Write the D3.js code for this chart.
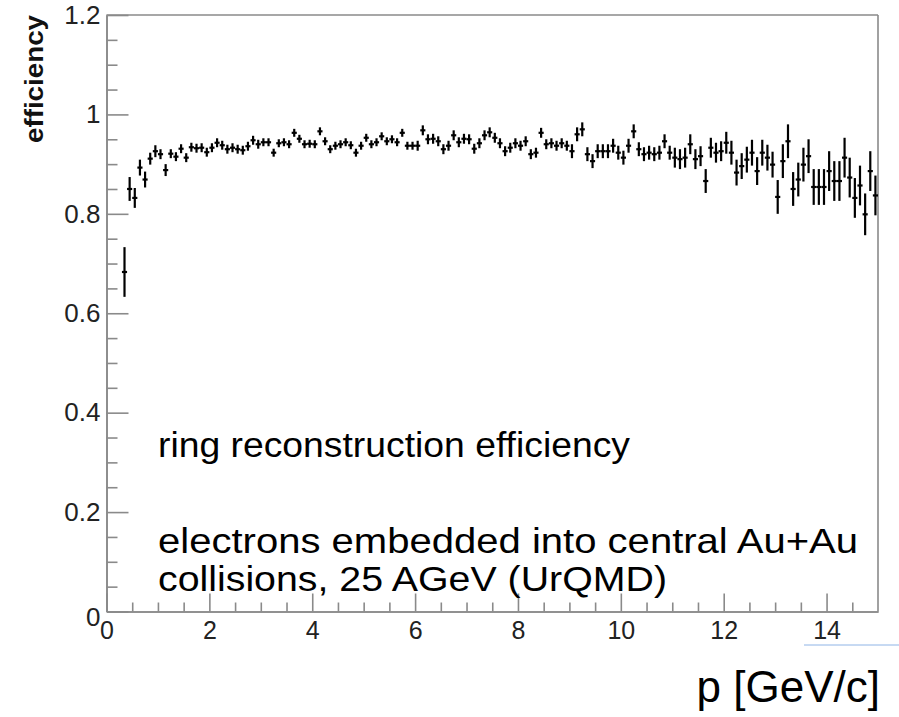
<!DOCTYPE html>
<html>
<head>
<meta charset="utf-8">
<script src="https://cdn.jsdelivr.net/npm/d3@7/dist/d3.min.js"></script>
<style>
  html, body { margin: 0; padding: 0; background: #fff; }
  svg { display: block; font-family: "Liberation Sans", Arial, Helvetica, sans-serif; }
</style>
</head>
<body>
<svg id="chart" width="899" height="717"></svg>
<script>
// ---- data ----
const momentum = [
  0.35,0.45,0.55,0.65,0.75,0.85,0.95,1.05,1.15,1.25,1.35,1.45,1.55,1.65,1.75,1.85,1.95,
  2.05,2.15,2.25,2.35,2.45,2.55,2.65,2.75,2.85,2.95,
  3.05,3.15,3.25,3.35,3.45,3.55,3.65,3.75,3.85,3.95,
  4.05,4.15,4.25,4.35,4.45,4.55,4.65,4.75,4.85,4.95,
  5.05,5.15,5.25,5.35,5.45,5.55,5.65,5.75,5.85,5.95,
  6.05,6.15,6.25,6.35,6.45,6.55,6.65,6.75,6.85,6.95,
  7.05,7.15,7.25,7.35,7.45,7.55,7.65,7.75,7.85,7.95,
  8.05,8.15,8.25,8.35,8.45,8.55,8.65,8.75,8.85,8.95,
  9.05,9.15,9.25,9.35,9.45,9.55,9.65,9.75,9.85,9.95,
  10.05,10.15,10.25,10.35,10.45,10.55,10.65,10.75,10.85,10.95,
  11.05,11.15,11.25,11.35,11.45,11.55,11.65,11.75,11.85,11.95,
  12.05,12.15,12.25,12.35,12.45,12.55,12.65,12.75,12.85,12.95,
  13.05,13.15,13.25,13.35,13.45,13.55,13.65,13.75,13.85,13.95,
  14.05,14.15,14.25,14.35,14.45,14.55,14.65,14.75,14.85,14.95
];
const efficiency = [
  0.683,0.850,0.832,0.893,0.869,0.911,0.926,0.920,0.888,0.921,0.915,0.931,0.913,0.934,0.932,0.933,0.924,
  0.933,0.943,0.938,0.930,0.933,0.930,0.928,0.936,0.948,0.940,
  0.944,0.944,0.923,0.942,0.944,0.940,0.963,0.951,0.940,0.941,
  0.940,0.966,0.946,0.930,0.937,0.940,0.944,0.938,0.923,0.937,
  0.953,0.940,0.944,0.956,0.946,0.950,0.944,0.963,0.937,0.937,
  0.937,0.968,0.950,0.951,0.946,0.930,0.937,0.958,0.944,0.951,
  0.950,0.931,0.942,0.958,0.964,0.953,0.942,0.926,0.933,0.942,
  0.937,0.946,0.920,0.923,0.963,0.940,0.942,0.937,0.942,0.937,
  0.926,0.960,0.970,0.920,0.906,0.926,0.926,0.926,0.937,0.923,
  0.913,0.937,0.966,0.930,0.920,0.923,0.920,0.923,0.946,0.923,
  0.913,0.910,0.913,0.940,0.910,0.916,0.866,0.933,0.923,0.926,
  0.943,0.923,0.883,0.896,0.909,0.923,0.886,0.923,0.913,0.899,
  0.834,0.906,0.946,0.850,0.869,0.899,0.916,0.854,0.854,0.854,
  0.886,0.866,0.866,0.913,0.873,0.832,0.857,0.799,0.886,0.837
];
const effError = [
  0.050,0.024,0.020,0.016,0.016,0.012,0.012,0.010,0.012,0.009,0.009,0.009,0.009,0.009,0.009,0.009,0.009,
  0.009,0.009,0.009,0.009,0.009,0.009,0.009,0.009,0.009,0.009,
  0.008,0.008,0.008,0.008,0.008,0.008,0.008,0.008,0.008,0.008,
  0.008,0.008,0.008,0.008,0.008,0.008,0.008,0.008,0.008,0.008,
  0.008,0.008,0.008,0.008,0.008,0.008,0.008,0.008,0.008,0.008,
  0.010,0.010,0.010,0.010,0.010,0.010,0.010,0.010,0.010,0.010,
  0.010,0.010,0.010,0.010,0.010,0.010,0.010,0.010,0.010,0.010,
  0.010,0.010,0.010,0.010,0.010,0.010,0.010,0.010,0.010,0.010,
  0.014,0.014,0.014,0.014,0.014,0.014,0.014,0.014,0.014,0.014,
  0.014,0.014,0.014,0.014,0.014,0.014,0.014,0.014,0.014,0.014,
  0.020,0.020,0.020,0.020,0.020,0.020,0.024,0.020,0.020,0.020,
  0.022,0.024,0.026,0.026,0.026,0.026,0.028,0.026,0.026,0.026,
  0.034,0.034,0.034,0.034,0.034,0.034,0.034,0.036,0.036,0.036,
  0.040,0.040,0.040,0.040,0.040,0.040,0.040,0.042,0.040,0.040
];
const binHalfWidth = 0.05;
const xMajorTicks = [0, 2, 4, 6, 8, 10, 12, 14];
const xMinorTicks = [0.5,1,1.5,2.5,3,3.5,4.5,5,5.5,6.5,7,7.5,8.5,9,9.5,10.5,11,11.5,12.5,13,13.5,14.5];
const yMajorTicks = [0, 0.2, 0.4, 0.6, 0.8, 1, 1.2];
const yMinorTicks = [0.05,0.1,0.15,0.25,0.3,0.35,0.45,0.5,0.55,0.65,0.7,0.75,0.85,0.9,0.95,1.05,1.1,1.15];
const yTitle = "efficiency";
const xTitle = "p [GeV/c]";
const noteLines = ["ring reconstruction efficiency", "electrons embedded into central Au+Au", "collisions, 25 AGeV (UrQMD)"];

// ---- layout ----
const svg = d3.select("#chart");
const L = 106.5, R = 878, T = 15, B = 611.5;
const axisColor = "#8a8a8a";
const x = d3.scaleLinear().domain([0, 15]).range([L, R]);
const y = d3.scaleLinear().domain([0, 1.2]).range([B, T]);

// frame (top & right)
svg.append("line").attr("x1", L).attr("x2", R).attr("y1", T).attr("y2", T)
  .attr("stroke", axisColor).attr("stroke-width", 1.6);
svg.append("line").attr("x1", R).attr("x2", R).attr("y1", T).attr("y2", B)
  .attr("stroke", axisColor).attr("stroke-width", 1.6);

function styleAxis(g, fs) {
  g.select(".domain").attr("stroke", axisColor).attr("stroke-width", 1.6);
  g.selectAll(".tick line").attr("stroke", axisColor).attr("stroke-width", 1.6);
  g.selectAll(".tick text").attr("fill", "#222").attr("font-size", fs);
}

// x axis
const gxMinor = svg.append("g").attr("transform", `translate(0,${B})`)
  .call(d3.axisBottom(x).tickValues(xMinorTicks).tickSize(-9).tickFormat("").tickSizeOuter(0));
styleAxis(gxMinor, 24);
const gx = svg.append("g").attr("transform", `translate(0,${B})`)
  .call(d3.axisBottom(x).tickValues(xMajorTicks).tickSize(-18).tickPadding(10).tickSizeOuter(0).tickFormat(d3.format("d")));
styleAxis(gx, 25);

// y axis
const gyMinor = svg.append("g").attr("transform", `translate(${L},0)`)
  .call(d3.axisLeft(y).tickValues(yMinorTicks).tickSize(-11).tickFormat("").tickSizeOuter(0));
styleAxis(gyMinor, 24);
const gy = svg.append("g").attr("transform", `translate(${L},0)`)
  .call(d3.axisLeft(y).tickValues(yMajorTicks).tickSize(-22).tickPadding(6).tickSizeOuter(0)
    .tickFormat(d => d === 0 ? "0" : d3.format("~g")(d)));
styleAxis(gy, 26);
gy.selectAll(".tick text").filter(d => d === 0).attr("dy", "0.55em");

// y title
svg.append("text")
  .attr("transform", `translate(43,${T}) rotate(-90)`)
  .attr("text-anchor", "end")
  .attr("font-weight", "bold")
  .attr("font-size", 26)
  .attr("textLength", 128)
  .attr("lengthAdjust", "spacingAndGlyphs")
  .attr("fill", "#111")
  .text(yTitle);

// data points with error bars
const pts = svg.append("g");
momentum.forEach((p, i) => {
  const v = efficiency[i], e = effError[i];
  pts.append("line")
    .attr("x1", x(p)).attr("x2", x(p))
    .attr("y1", y(v - e)).attr("y2", y(v + e))
    .attr("stroke", "#000").attr("stroke-width", 2.2);
  pts.append("line")
    .attr("x1", x(p - binHalfWidth)).attr("x2", x(p + binHalfWidth))
    .attr("y1", y(v)).attr("y2", y(v))
    .attr("stroke", "#000").attr("stroke-width", 2.2);
});

// annotation text
const noteY = [457, 553, 591];
const noteLen = [472, 700, 509];
noteLines.forEach((t, i) => {
  svg.append("text").attr("x", 158).attr("y", noteY[i])
    .attr("font-size", 35).attr("fill", "#000")
    .attr("textLength", noteLen[i]).attr("lengthAdjust", "spacingAndGlyphs")
    .text(t);
});

// x title
svg.append("text").attr("x", 880).attr("y", 702).attr("text-anchor", "end")
  .attr("font-size", 44).attr("fill", "#000").text(xTitle);

// thin blue line under label
svg.append("line").attr("x1", 804).attr("x2", 899).attr("y1", 645).attr("y2", 645)
  .attr("stroke", "#8fb4e6").attr("stroke-width", 1);
</script>
</body>
</html>
